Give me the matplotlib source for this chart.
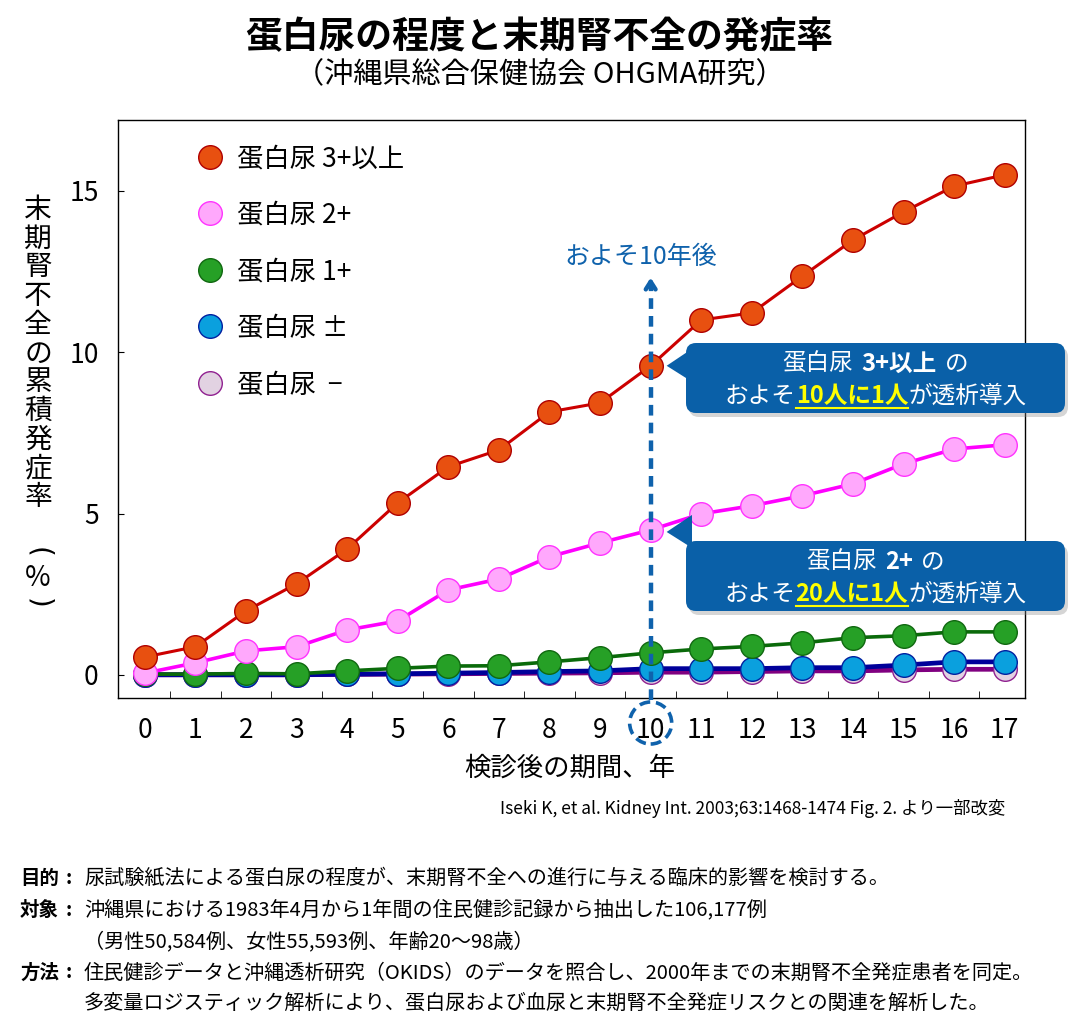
import matplotlib
matplotlib.use("Agg")
import matplotlib.pyplot as plt
from matplotlib.lines import Line2D
from matplotlib.patches import FancyBboxPatch, Polygon, Circle
from matplotlib.transforms import IdentityTransform

plt.rcParams['font.family'] = ['Noto Sans CJK JP', 'DejaVu Sans']

# ---- data (cumulative incidence of ESRD, %) ----
years = list(range(18))
labels = ['蛋白尿 3+以上', '蛋白尿 2+', '蛋白尿 1+', '蛋白尿 ±', '蛋白尿  −']
p3plus = [0.55, 0.87, 1.98, 2.82, 3.90, 5.33, 6.45, 6.97, 8.15, 8.43,
          9.58, 11.0, 11.22, 12.36, 13.48, 14.35, 15.15, 15.5]
p2plus = [0.05, 0.37, 0.74, 0.87, 1.39, 1.67, 2.63, 2.97, 3.66, 4.09,
          4.49, 4.99, 5.24, 5.55, 5.92, 6.54, 7.0, 7.13]
p1plus = [0.02, 0.02, 0.04, 0.03, 0.12, 0.2, 0.27, 0.28, 0.4, 0.53,
          0.68, 0.8, 0.88, 0.99, 1.15, 1.21, 1.33, 1.33]
ppm = [0.0, 0.0, 0.0, 0.0, 0.02, 0.03, 0.05, 0.07, 0.1, 0.12,
       0.19, 0.19, 0.19, 0.22, 0.22, 0.3, 0.4, 0.4]
pneg = [0.0, 0.0, 0.0, 0.0, 0.01, 0.02, 0.03, 0.04, 0.05, 0.06,
        0.08, 0.08, 0.1, 0.12, 0.12, 0.15, 0.17, 0.17]
series = [p3plus, p2plus, p1plus, ppm, pneg]

line_colors = ['#CC0000', '#FF00FF', '#0A6A0A', '#00009A', '#800080']
face_colors = ['#E85010', '#FFA8FC', '#26A026', '#0AA0DE', '#E2D2E2']
edge_colors = ['#B00000', '#FF33FF', '#106810', '#0020A0', '#902090']
line_widths = [2.2, 2.6, 2.6, 3.4, 3.4]
z_orders = [10, 9, 8, 7, 6]

W, H = 1079, 1029
fig = plt.figure(figsize=(W / 100, H / 100), dpi=100)
ax = fig.add_axes([118 / W, 1 - 698 / H, (1025 - 118) / W, (698 - 120) / H])

handles = []
for ys, lab, lc, fc, ec, lw, zo in zip(series, labels, line_colors, face_colors,
                                         edge_colors, line_widths, z_orders):
    ax.plot(years, ys, '-', color=lc, lw=lw, marker='o', ms=17,
            mfc=fc, mec=ec, mew=1.0, zorder=zo)
    handles.append(Line2D([], [], ls='none', marker='o', ms=17,
                          mfc=fc, mec=ec, mew=1.0, label=lab))

ax.set_xlim(-0.53, 17.4)
ax.set_ylim(-0.72, 17.2)
ax.set_yticks([0, 5, 10, 15])
ax.set_xticks(years)
ax.set_xticks([x + 0.5 for x in years[:-1]], minor=True)
ax.tick_params(axis='y', direction='in', length=4, labelsize=19, pad=14)
ax.tick_params(axis='x', which='major', length=0, labelsize=19, pad=14)
ax.tick_params(axis='x', which='minor', direction='in', length=5)
for s in ax.spines.values():
    s.set_linewidth(1.0)

leg = ax.legend(handles=handles, loc='upper left', frameon=False, fontsize=19,
                labelspacing=1.12, handlelength=1.0, handletextpad=0.5,
                borderaxespad=0, bbox_to_anchor=(0.0755, 0.975))

# dashed arrow at year 10
arrow_c = '#0F62AC'
ax.plot([10, 10], [-0.78, 12.15], ls=(0, (2.4, 1.6)), lw=3.2, color=arrow_c,
        clip_on=False, zorder=20)
ax.annotate('', xy=(10, 12.4), xytext=(10, 11.9),
            arrowprops=dict(arrowstyle='->,head_length=0.55,head_width=0.35',
                            lw=3.2, color=arrow_c), zorder=21)
ax.text(9.8, 12.95, 'およそ10年後', color=arrow_c, fontsize=18,
        ha='center', va='center')

ident = IdentityTransform()

# dashed circle around tick label "10"
cx_disp = ax.transData.transform((10, 0))[0]
fig.patches.append(Circle((cx_disp, H - 723), 21, transform=ident, fill=False,
                          ec=arrow_c, lw=2.6, ls=(0, (3, 1.6))))

# callout boxes
box_c = '#0A60A8'
renderer = fig.canvas.get_renderer()


def rich_line(segs, cx, cy, size):
    items = []
    total = 0
    for txt, bold, col, ul, gap in segs:
        t = fig.text(0, 0, txt, transform=ident, fontsize=size, color=col,
                     fontweight='bold' if bold else 'normal', ha='left',
                     va='baseline', zorder=30)
        w = t.get_window_extent(renderer).width
        items.append((t, w, gap, ul, col))
        total += w + gap
    x = cx - total / 2
    for t, w, gap, ul, col in items:
        x += gap
        t.set_position((x, H - cy))
        if ul:
            fig.add_artist(Line2D([x, x + w], [H - cy - 5, H - cy - 5],
                                  transform=ident, color=col, lw=1.5, zorder=30))
        x += w


def callout(top, bottom, tip, line1, line2):
    x0, x1 = 686, 1065
    shadow = FancyBboxPatch((x0 + 3, H - bottom - 4), x1 - x0, bottom - top,
                            boxstyle='round,pad=0,rounding_size=10',
                            transform=ident, fc='#888888', ec='none', alpha=0.35,
                            zorder=28)
    box = FancyBboxPatch((x0, H - bottom), x1 - x0, bottom - top,
                         boxstyle='round,pad=0,rounding_size=10',
                         transform=ident, fc=box_c, ec='none', zorder=29)
    fig.patches.extend([shadow, box])
    tx, ty = tip
    tri = Polygon([(tx, ty), (x0 + 6, ty + 17), (x0 + 6, ty - 16)],
                  closed=True, transform=ident, fc=box_c, ec='none', zorder=29)
    fig.patches.append(tri)
    rich_line(line1, (x0 + x1) / 2, top + 28, 17)
    rich_line(line2, (x0 + x1) / 2, top + 60, 17)


tip1 = ax.transData.transform((10, p3plus[10]))
tip1 = (tip1[0] + 16, tip1[1])
callout(343, 413, tip1,
        [('蛋白尿', False, 'white', False, 0),
         ('3+以上', True, 'white', False, 8),
         ('の', False, 'white', False, 8)],
        [('およそ', False, 'white', False, 0),
         ('10人に1人', True, '#FFFF00', True, 0),
         ('が透析導入', False, 'white', False, 0)])

tip2 = ax.transData.transform((10, p2plus[10]))
tip2 = (tip2[0] + 16, tip2[1] - 2)
callout(541, 611, tip2,
        [('蛋白尿', False, 'white', False, 0),
         ('2+', True, 'white', False, 8),
         ('の', False, 'white', False, 8)],
        [('およそ', False, 'white', False, 0),
         ('20人に1人', True, '#FFFF00', True, 0),
         ('が透析導入', False, 'white', False, 0)])

# titles
fig.text(0.5, 1 - 38 / H, '蛋白尿の程度と末期腎不全の発症率', fontsize=26.5,
         fontweight='bold', ha='center', va='center')
fig.text(0.5, 1 - 75 / H, '（沖縄県総合保健協会 OHGMA研究）', fontsize=21,
         ha='center', va='center')

# vertical y-axis label
ylab = ['末', '期', '腎', '不', '全', 'の', '累', '積', '発', '症', '率']
for i, ch in enumerate(ylab):
    fig.text(38 / W, 1 - (210 + i * 28.7) / H, ch, fontsize=20,
             ha='center', va='center')
fig.text(38 / W, 1 - 578 / H, '%', fontsize=20, ha='center', va='center')
for ch, yy in [('(', 552), (')', 603)]:
    fig.text(38 / W, 1 - yy / H, ch, fontsize=20, ha='center', va='center',
             rotation=-90, family='DejaVu Sans')

fig.text(570 / W, 1 - 768 / H, '検診後の期間、年', fontsize=19,
         ha='center', va='center')
fig.text(1005 / W, 1 - 808 / H,
         'Iseki K, et al. Kidney Int. 2003;63:1468-1474 Fig. 2. より一部改変',
         fontsize=12.5, ha='right', va='center')

# notes block
notes = [
    ('目的', '尿試験紙法による蛋白尿の程度が、末期腎不全への進行に与える臨床的影響を検討する。', 878),
    ('対象', '沖縄県における1983年4月から1年間の住民健診記録から抽出した106,177例', 910),
    ('', '（男性50,584例、女性55,593例、年齢20～98歳）', 942),
    ('方法', '住民健診データと沖縄透析研究（OKIDS）のデータを照合し、2000年までの末期腎不全発症患者を同定。', 973),
    ('', '多変量ロジスティック解析により、蛋白尿および血尿と末期腎不全発症リスクとの関連を解析した。', 1003),
]
for head, body, yy in notes:
    if head:
        fig.text(20 / W, 1 - yy / H, head, fontsize=14, fontweight='bold',
                 ha='left', va='center')
        fig.text(66 / W, 1 - yy / H, ':', fontsize=14, fontweight='bold',
                 ha='left', va='center')
    fig.text(84 / W, 1 - yy / H, body, fontsize=14.5, ha='left', va='center')

fig.savefig('out.png', dpi=100)
